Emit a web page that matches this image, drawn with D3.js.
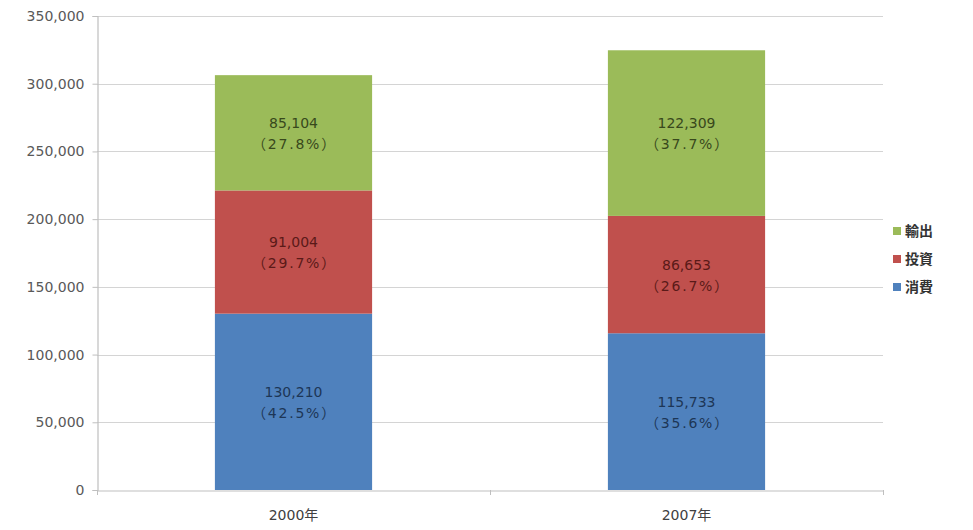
<!DOCTYPE html>
<html><head><meta charset="utf-8">
<script src="https://cdn.jsdelivr.net/npm/d3@7"></script>
<style>
html,body{margin:0;padding:0;background:#fff;}
text{font-family:"DejaVu Sans","Noto Sans CJK JP",sans-serif;}
</style></head>
<body>
<svg id="chart" width="973" height="530"></svg>
<script>
const categories = ["2000年", "2007年"];
const seriesNames = ["消費", "投資", "輸出"];
const consumption = [130210, 115733];
const investment = [91004, 86653];
const exportsVals = [85104, 122309];
const consumptionPct = ["42.5", "35.6"];
const investmentPct = ["29.7", "26.7"];
const exportsPct = ["27.8", "37.7"];
const yTicks = [0, 50000, 100000, 150000, 200000, 250000, 300000, 350000];

const colors = {"消費": "#4F81BD", "投資": "#C0504D", "輸出": "#9BBB59"};
const labelColors = {"消費": "#1d3656", "投資": "#5a1a18", "輸出": "#38481c"};

const rows = categories.map((c, i) => ({
  cat: c,
  "消費": consumption[i], "投資": investment[i], "輸出": exportsVals[i],
  pct: {"消費": consumptionPct[i], "投資": investmentPct[i], "輸出": exportsPct[i]}
}));

const svg = d3.select("#chart");
const margin = {left: 97, right: 90, top: 16, bottom: 40};
const W = 973, H = 530;
const x = d3.scaleBand().domain(categories).range([margin.left, W - margin.right]).paddingInner(0.6).paddingOuter(0.3);
const y = d3.scaleLinear().domain([0, 350000]).range([H - margin.bottom, margin.top]);

// gridlines
svg.append("g").selectAll("line").data(yTicks.filter(d => d > 0)).join("line")
  .attr("x1", margin.left).attr("x2", W - margin.right)
  .attr("y1", d => Math.round(y(d)) + 0.5).attr("y2", d => Math.round(y(d)) + 0.5)
  .attr("stroke", "#d4d4d4").attr("stroke-width", 1.2);

// y axis
const yAxis = d3.axisLeft(y).tickValues(yTicks).tickSize(5).tickPadding(8)
  .tickFormat(d3.format(","));
const gy = svg.append("g").attr("transform", `translate(${margin.left + 0.5},0)`).call(yAxis);
gy.select(".domain").attr("stroke", "#bfbfbf").attr("stroke-width", 1.2);
gy.selectAll(".tick line").attr("stroke", "#bfbfbf");
gy.selectAll(".tick text").attr("fill", "#595959").style("font-size", "14px")
  .style("font-family", "'DejaVu Sans', sans-serif");

// stacked bars
const stack = d3.stack().keys(seriesNames);
const layers = stack(rows);
const g = svg.append("g");
layers.forEach(layer => {
  const key = layer.key;
  g.append("g").selectAll("rect").data(layer).join("rect")
    .attr("x", d => x(d.data.cat))
    .attr("width", x.bandwidth())
    .attr("y", d => y(d[1]))
    .attr("height", d => y(d[0]) - y(d[1]))
    .attr("fill", colors[key]);
  const lg = g.append("g");
  layer.forEach(d => {
    const cx = x(d.data.cat) + x.bandwidth() / 2;
    const cy = (y(d[0]) + y(d[1])) / 2;
    const t = lg.append("text").attr("text-anchor", "middle")
      .attr("fill", labelColors[key]).style("font-size", "14px");
    t.append("tspan").attr("x", cx).attr("y", cy - 5).text(d3.format(",")(d.data[key]));
    t.append("tspan").attr("x", cx + 1).attr("y", cy + 16).style("letter-spacing", "1.8px")
      .text("（" + d.data.pct[key] + "%）");
  });
});

// x axis
const xAxis = d3.axisBottom(x).tickSize(0).tickPadding(20);
const gx = svg.append("g").attr("transform", `translate(0,${y(0) + 0.5})`).call(xAxis);
gx.select(".domain").attr("stroke", "#bfbfbf").attr("stroke-width", 1.2);
gx.selectAll(".tick text").attr("fill", "#404040").style("font-size", "14px")
  .style("font-family", "'DejaVu Sans','Noto Sans CJK JP', sans-serif");
// category separator ticks
const sepX = [margin.left, (x(categories[0]) + x.bandwidth() + x(categories[1])) / 2, W - margin.right];
svg.append("g").selectAll("line").data(sepX).join("line")
  .attr("x1", d => Math.round(d) + 0.5).attr("x2", d => Math.round(d) + 0.5)
  .attr("y1", y(0)).attr("y2", y(0) + 5).attr("stroke", "#bfbfbf");

// legend
const legendItems = ["輸出", "投資", "消費"];
const lgd = svg.append("g").attr("transform", "translate(893,231)");
legendItems.forEach((k, i) => {
  const it = lgd.append("g").attr("transform", `translate(0,${i * 28})`);
  it.append("rect").attr("x", 0).attr("y", -4).attr("width", 8).attr("height", 8).attr("fill", colors[k]);
  it.append("text").attr("x", 12).attr("y", 5).attr("fill", "#333")
    .style("font-size", "14px").style("font-weight", "bold")
    .style("font-family", "'Noto Sans CJK JP', sans-serif").text(k);
});
</script>
</body></html>
